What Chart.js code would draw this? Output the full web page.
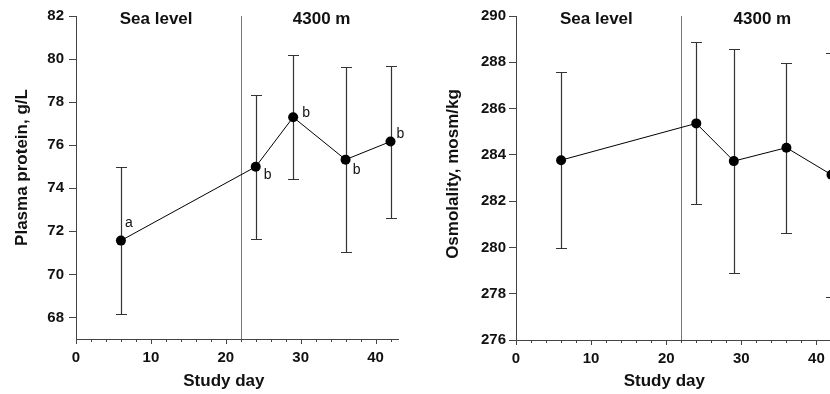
<!DOCTYPE html>
<html>
<head>
<meta charset="utf-8">
<script src="https://cdn.jsdelivr.net/npm/chart.js@4.4.0/dist/chart.umd.min.js"></script>
<style>
  body { margin: 0; width: 830px; height: 394px; overflow: hidden; background: #fff; position: relative; }
  canvas { position: absolute; top: 0; }
  #proteinChart { left: 0; }
  #osmoChart { left: 415px; }
</style>
</head>
<body>
<canvas id="proteinChart" width="415" height="394"></canvas>
<canvas id="osmoChart" width="460" height="394"></canvas>
<script>
// Data
const studyDays = [6, 24, 29, 36, 42];
const protein = [71.57, 75.0, 77.3, 75.33, 76.17];
const proteinSD = [3.42, 3.35, 2.87, 4.3, 3.53];
const proteinLetters = ['a', 'b', 'b', 'b', 'b'];
const osmolality = [283.77, 285.36, 283.73, 284.31, 283.14];
const osmolalitySD = [3.8, 3.5, 4.85, 3.68, 5.28];

const xTicks = [0, 2, 4, 6, 8, 10, 12, 14, 16, 18, 20, 22, 24, 26, 28, 30, 32, 34, 36, 38, 40, 42];
const proteinTicks = [68, 70, 72, 74, 76, 78, 80, 82];
const osmoTicks = [276, 278, 280, 282, 284, 286, 288, 290];

const phaseLabels = ['Sea level', '4300 m'];
const phaseDays = [10.7, 32.8];
const ascentDay = 22;
const xTitle = 'Study day';

const FONT = "'Liberation Sans', Arial, Helvetica, sans-serif";
Chart.defaults.font.family = FONT;
Chart.defaults.color = '#111';

// letter placement relative to each point (px)
const letterOffsets = [[8, -17], [12, 8], [13, -4], [11, 11], [10, -7]];

function crisp(v) {
  return Math.round(v) + 0.5;
}

// error bars, the ascent line, x ticks, titles and text labels
function makeExtras(values, sd, letters, yTitle, opt) {
  return {
    id: 'extras',
    beforeDatasetsDraw(chart) {
      const ctx = chart.ctx;
      const area = chart.chartArea;
      const x = chart.scales.x;
      const y = chart.scales.y;
      ctx.save();

      // ascent marker
      const lx = crisp(x.getPixelForValue(ascentDay));
      ctx.strokeStyle = '#777';
      ctx.lineWidth = 1;
      ctx.beginPath();
      ctx.moveTo(lx, area.top);
      ctx.lineTo(lx, area.bottom);
      ctx.stroke();

      // error bars
      ctx.strokeStyle = '#333';
      ctx.lineWidth = 1.2;
      for (let i = 0; i < values.length; i++) {
        const px = crisp(x.getPixelForValue(studyDays[i]));
        const top = crisp(y.getPixelForValue(values[i] + sd[i]));
        const bot = crisp(y.getPixelForValue(values[i] - sd[i]));
        ctx.beginPath();
        ctx.moveTo(px, top);
        ctx.lineTo(px, bot);
        ctx.moveTo(px - 5.5, top);
        ctx.lineTo(px + 5.5, top);
        ctx.moveTo(px - 5.5, bot);
        ctx.lineTo(px + 5.5, bot);
        ctx.stroke();
      }
      ctx.restore();
    },
    afterDraw(chart) {
      const ctx = chart.ctx;
      const area = chart.chartArea;
      const x = chart.scales.x;
      const y = chart.scales.y;
      ctx.save();

      // x ticks, long on the labelled ones
      ctx.strokeStyle = '#444';
      ctx.lineWidth = 1;
      ctx.beginPath();
      xTicks.forEach(function(v) {
        const px = crisp(x.getPixelForValue(v));
        const len = v % 10 === 0 ? 5 : 3;
        ctx.moveTo(px, area.bottom);
        ctx.lineTo(px, area.bottom + len);
      });
      ctx.stroke();

      ctx.fillStyle = '#111';
      ctx.textAlign = 'center';
      ctx.textBaseline = 'middle';

      // phase headings
      ctx.font = 'bold 17px ' + FONT;
      for (let i = 0; i < phaseLabels.length; i++) {
        ctx.fillText(phaseLabels[i], x.getPixelForValue(phaseDays[i]), area.top + 3);
      }

      // axis titles
      ctx.fillText(xTitle, x.getPixelForValue(19.75), 381);
      ctx.save();
      ctx.translate(opt.titleX, (area.top + area.bottom) / 2 + opt.titleShift);
      ctx.rotate(-Math.PI / 2);
      ctx.fillText(yTitle, 0, 0);
      ctx.restore();

      // significance letters
      if (letters) {
        ctx.font = '14px ' + FONT;
        for (let i = 0; i < letters.length; i++) {
          const px = x.getPixelForValue(studyDays[i]);
          const py = y.getPixelForValue(values[i]);
          ctx.fillText(letters[i], px + letterOffsets[i][0], py + letterOffsets[i][1]);
        }
      }
      ctx.restore();
    }
  };
}

function makeChart(id, values, sd, letters, yMin, yMax, yTicks, yTitle, opt) {
  const ctx = document.getElementById(id).getContext('2d');
  return new Chart(ctx, {
    type: 'scatter',
    data: {
      datasets: [{
        data: studyDays.map(function(d, i) { return { x: d, y: values[i] }; }),
        showLine: true,
        borderColor: '#000',
        borderWidth: 1,
        pointRadius: 5,
        pointBackgroundColor: '#000',
        pointBorderWidth: 0,
        pointHoverRadius: 5
      }]
    },
    options: {
      responsive: false,
      animation: false,
      layout: { padding: { top: 16, right: opt.right, bottom: 0, left: 0 } },
      plugins: {
        legend: { display: false },
        tooltip: { enabled: false }
      },
      scales: {
        x: {
          type: 'linear',
          min: 0,
          max: 43,
          afterBuildTicks: function(s) { s.ticks = xTicks.map(function(v) { return { value: v }; }); },
          afterFit: function(s) { s.height = opt.xHeight; },
          grid: { drawOnChartArea: false, drawTicks: false },
          border: { color: '#444', width: 1 },
          ticks: {
            autoSkip: false,
            maxRotation: 0,
            padding: 10,
            color: '#111',
            font: { size: 15, weight: 'bold' },
            callback: function(v) { return v % 10 === 0 ? v : ''; }
          }
        },
        y: {
          type: 'linear',
          min: yMin,
          max: yMax,
          afterBuildTicks: function(s) { s.ticks = yTicks.map(function(v) { return { value: v }; }); },
          afterFit: function(s) { s.width = opt.yWidth; },
          grid: { drawOnChartArea: false, tickLength: 7, color: '#444' },
          border: { color: '#444', width: 1 },
          ticks: {
            padding: opt.tickPad,
            color: '#111',
            font: { size: 15, weight: 'bold' }
          }
        }
      }
    },
    plugins: [makeExtras(values, sd, letters, yTitle, opt)]
  });
}

makeChart('proteinChart', protein, proteinSD, proteinLetters, 67, 82, proteinTicks,
  'Plasma protein, g/L', { right: 17, xHeight: 55, yWidth: 76, tickPad: 5, titleX: 22, titleShift: -10 });

makeChart('osmoChart', osmolality, osmolalitySD, null, 276, 290, osmoTicks,
  'Osmolality, mosm/kg', { right: 36, xHeight: 54, yWidth: 101, tickPad: 3, titleX: 38.5, titleShift: -4 });
</script>
</body>
</html>
